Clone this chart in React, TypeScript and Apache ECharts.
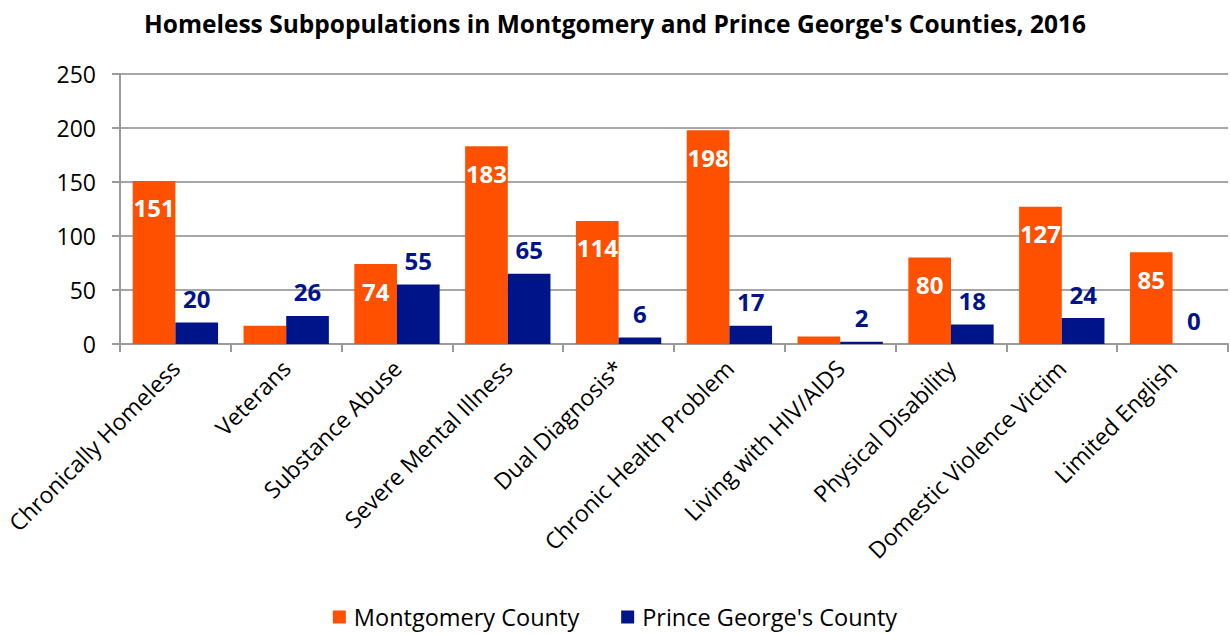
import React, { useEffect, useRef } from "react";
import * as echarts from "echarts";

const categories = [
  "Chronically Homeless",
  "Veterans",
  "Substance Abuse",
  "Severe Mental Illness",
  "Dual Diagnosis*",
  "Chronic Health Problem",
  "Living with HIV/AIDS",
  "Physical Disability",
  "Domestic Violence Victim",
  "Limited English",
];
const montgomery = [151, 17, 74, 183, 114, 198, 7, 80, 127, 85];
const montgomeryLabelShown = [true, false, true, true, true, true, false, true, true, true];
const princeGeorges = [20, 26, 55, 65, 6, 17, 2, 18, 24, 0];
const yTicks = [0, 50, 100, 150, 200, 250];

const FONT = "'Open Sans', sans-serif";
const ORANGE = "#FF5000";
const NAVY = "#00148A";

export default function App() {
  const ref = useRef<HTMLDivElement>(null);
  useEffect(() => {
    const chart = echarts.init(ref.current!, undefined, { renderer: "svg" });
    chart.setOption({
      animation: false,
      textStyle: { fontFamily: FONT },
      title: {
        text: "Homeless Subpopulations in Montgomery and Prince George's Counties, 2016",
        left: "center",
        top: 6,
        textStyle: { fontFamily: FONT, fontSize: 24.5, fontWeight: "bold", color: "#000" },
      },
      legend: {
        bottom: 0,
        left: "center",
        itemWidth: 13,
        itemHeight: 13,
        itemGap: 42,
        icon: "rect",
        textStyle: { fontFamily: FONT, fontSize: 23.5, color: "#000", padding: [0, 0, 0, 3] },
        data: ["Montgomery County", "Prince George's County"],
      },
      grid: { left: 120, right: 2, top: 74, bottom: 290 },
      xAxis: {
        type: "category",
        data: categories,
        axisLine: { lineStyle: { color: "#9a9a9a", width: 2 } },
        axisTick: { show: true, length: 8, lineStyle: { color: "#9a9a9a", width: 2 } },
        axisLabel: {
          rotate: 45,
          interval: 0,
          margin: 20,
          fontFamily: FONT,
          fontSize: 23,
          color: "#000",
        },
      },
      yAxis: {
        type: "value",
        min: yTicks[0],
        max: yTicks[yTicks.length - 1],
        interval: 50,
        axisLine: { show: true, lineStyle: { color: "#9a9a9a", width: 2 } },
        axisTick: { show: true, length: 8, lineStyle: { color: "#9a9a9a", width: 2 } },
        splitLine: { lineStyle: { color: "#a6a6a6", width: 2 } },
        axisLabel: { fontFamily: FONT, fontSize: 23, color: "#000", margin: 24 },
      },
      series: [
        {
          name: "Montgomery County",
          type: "bar",
          barGap: "0%",
          barCategoryGap: "23%",
          itemStyle: { color: ORANGE },
          label: {
            show: true,
            position: "insideTop",
            distance: 15,
            color: "#fff",
            fontFamily: FONT,
            fontWeight: "bold",
            fontSize: 24,
          },
          data: montgomery.map((v, i) =>
            montgomeryLabelShown[i] ? v : { value: v, label: { show: false } }
          ),
        },
        {
          name: "Prince George's County",
          type: "bar",
          barGap: "0%",
          barCategoryGap: "23%",
          itemStyle: { color: NAVY },
          label: {
            show: true,
            position: "top",
            distance: 12,
            color: NAVY,
            fontFamily: FONT,
            fontWeight: "bold",
            fontSize: 24,
          },
          data: princeGeorges,
        },
      ],
    });
    return () => chart.dispose();
  }, []);
  return (
    <div
      ref={ref}
      style={{ position: "absolute", left: 0, top: 0, width: 1230, height: 634, background: "#fff" }}
    />
  );
}
